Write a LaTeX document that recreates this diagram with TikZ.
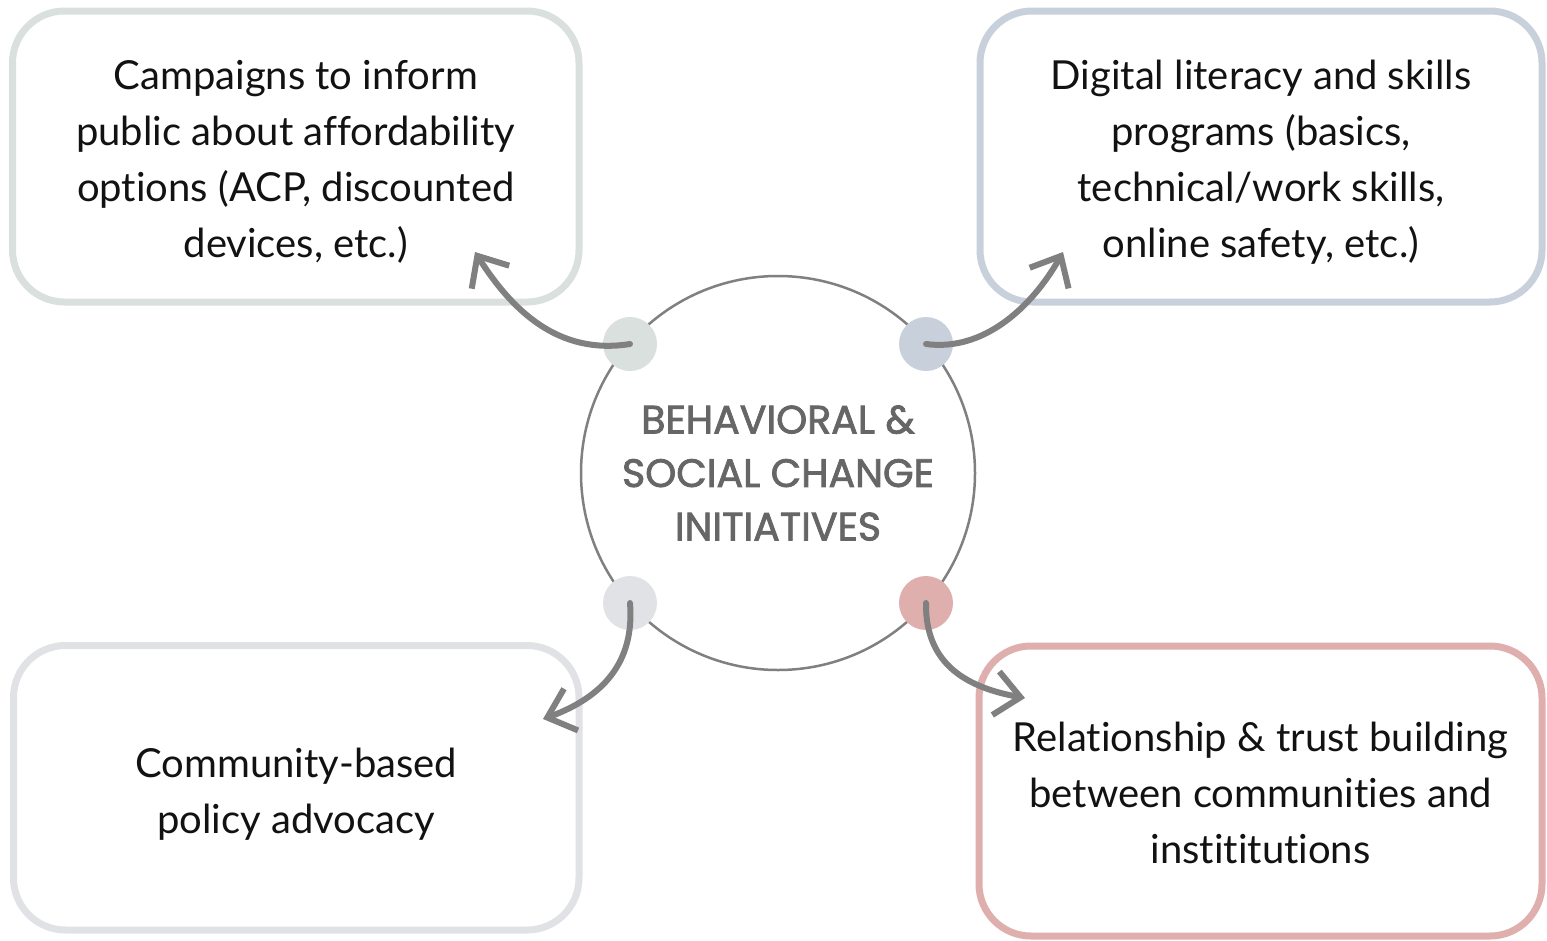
\documentclass[tikz,border=0pt]{standalone}
\usepackage{fontspec}
\setmainfont{Lato}[Ligatures=NoCommon]
\newfontfamily\ctrfont[FakeBold=2]{Poppins}
\usetikzlibrary{arrows.meta,bending}
\definecolor{cTL}{HTML}{D9E0DD}
\definecolor{cTR}{HTML}{C8D1DB}
\definecolor{cBL}{HTML}{E1E2E6}
\definecolor{cBR}{HTML}{DFAFAE}
\definecolor{arr}{HTML}{808080}
\definecolor{ctext}{HTML}{666666}
\newcommand{\topstrut}{\rule{0pt}{40pt}}
\begin{document}
\begin{tikzpicture}[x=1pt,y=-1pt,
  box/.style={draw, rectangle, rounded corners=52pt, line width=7pt, align=center,
    font=\fontsize{40}{56}\selectfont, inner sep=0pt, text=black!93},
  dot/.style={circle, inner sep=0pt, minimum size=54pt},
  link/.style={draw=arr, line width=6pt, line cap=round, line join=round,
    -{Straight Barb[length=25pt,width=44pt]}}]
\useasboundingbox (0,0) rectangle (1547,940);
\fill[white] (0,0) rectangle (1547,940);

% boxes
\node[box, draw=cTL, minimum width=566.5pt, minimum height=291pt] (bTL) at (295.75,156.5)
  {\topstrut Campaigns to inform\\public about affordability\\options (ACP, discounted\\devices, etc.)};
\node[box, draw=cTR, minimum width=562pt, minimum height=291pt] (bTR) at (1261,156.5)
  {\topstrut Digital literacy and skills\\programs (basics,\\technical/work skills,\\online safety, etc.)};
\node[box, draw=cBL, minimum width=565.5pt, minimum height=284.5pt] (bBL) at (296.25,787.75)
  {\rule{0pt}{42pt}Community-based\\policy advocacy};
\node[box, draw=cBR, minimum width=563pt, minimum height=290pt] (bBR) at (1260.5,791)
  {\rule{0pt}{33pt}Relationship \& trust building\\between communities and\\instititutions};

% central circle
\node[circle, draw=arr, line width=2.5pt, minimum size=394pt, inner sep=0pt,
  align=center, text=ctext, font=\ctrfont\fontsize{39.5}{53.5}\selectfont] (hub) at (778,473)
  {BEHAVIORAL \&\\SOCIAL CHANGE\\INITIATIVES};

% dots
\node[dot, fill=cTL] (dTL) at (630,344) {};
\node[dot, fill=cTR] (dTR) at (926,344) {};
\node[dot, fill=cBL] (dBL) at (630,603) {};
\node[dot, fill=cBR] (dBR) at (926,603) {};

% arrow ends
\coordinate (tTL) at (475,252);
\coordinate (tTR) at (1063,252);
\coordinate (tBL) at (543,719);
\coordinate (tBR) at (1025,698);

\draw[link] (dTL.center) .. controls (555,356) and (508,306) .. (tTL);
\draw[link] (dTR.center) .. controls (985,352) and (1035,305) .. (tTR);
\draw[link] (dBL.center) .. controls (635,665) and (600,700) .. (tBL);
\draw[link] (dBR.center) .. controls (925,670) and (975,690) .. (tBR);
\end{tikzpicture}
\end{document}
